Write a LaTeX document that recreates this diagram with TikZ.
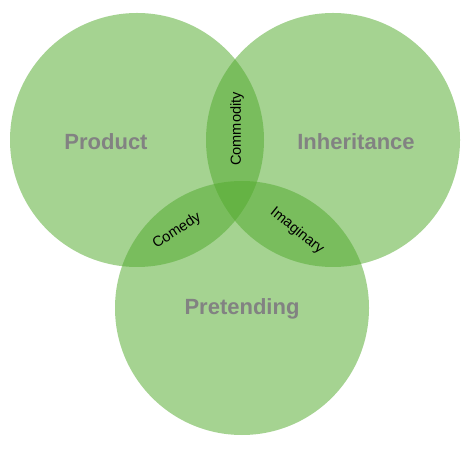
\documentclass[tikz,border=0pt]{standalone}
\usepackage{xcolor}
\usepackage{fontspec}
\setmainfont{Liberation Sans}
\usepackage{tikz}
\definecolor{VennGreen}{HTML}{52AA2D}
\definecolor{VennGrey}{HTML}{828282}

\begin{document}
\begin{tikzpicture}[x=1pt,y=1pt]
\path[use as bounding box] (0,0) rectangle (470,449);
\fill[VennGreen,opacity=.52] (137,309) circle (127);
\fill[VennGreen,opacity=.52] (333,309) circle (127);
\fill[VennGreen,opacity=.52] (242,141) circle (127);
\node[VennGrey,font=\fontsize{22}{24}\selectfont\bfseries] (product) at (106,307) {Product};
\node[VennGrey,font=\fontsize{22}{24}\selectfont\bfseries] (inherit) at (356,307) {Inheritance};
\node[VennGrey,font=\fontsize{22}{24}\selectfont\bfseries] (pretend) at (242,140) {Pretending};
\node[rotate=90,font=\fontsize{14.6}{16}\selectfont] (commodity) at (237,320) {Commodity};
\node[rotate=33,font=\fontsize{14.6}{16}\selectfont] (comedy) at (177,218) {Comedy};
\node[rotate=-39,font=\fontsize{14.6}{16}\selectfont] (imaginary) at (297,218) {Imaginary};
\end{tikzpicture}
\end{document}
